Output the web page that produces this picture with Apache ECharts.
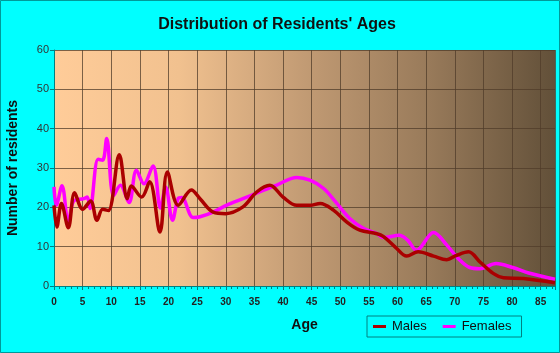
<!DOCTYPE html>
<html>
<head>
<meta charset="utf-8">
<script src="https://cdn.jsdelivr.net/npm/echarts@6/dist/echarts.min.js"></script>
<style>
  html, body { margin: 0; padding: 0; background: #00ffff; }
  #chart { width: 560px; height: 353px; }
</style>
</head>
<body>
<div id="chart"></div>
<script>
// values (age, residents)
var maleAges = [0, 0.5, 1.3, 2.5, 3.6, 5, 6.4, 7.5, 8.5, 9.5, 11.4, 12.8, 13.5, 15.3, 16.7, 18.5, 19.8, 21.7, 24, 25.5, 27.8, 30, 33, 35.4, 37.7, 40, 42.4, 44.7, 46.5, 48.8, 51.1, 53.4, 56.4, 57.5, 59.6, 61.6, 63.6, 66.3, 68.6, 70.3, 72.4, 74.4, 76.7, 78.5, 82, 87.5];
var maleValues = [20.5, 15, 21, 14.8, 23.7, 19.5, 21.6, 16.7, 19.5, 19.2, 33.4, 22.2, 25.4, 22.6, 26.5, 13.7, 29, 20.5, 24.4, 22.2, 18.8, 18.4, 20.1, 23.9, 25.6, 22.6, 20.5, 20.5, 21, 19.3, 16.3, 14.2, 13.3, 12.6, 9.9, 7.6, 8.7, 7.6, 6.7, 7.8, 8.7, 6.1, 3.2, 2.1, 1.9, 0.8];

var femaleAges = [0, 0.4, 1.4, 2.5, 3.4, 5.2, 5.8, 6.3, 7.7, 8.5, 9.2, 10.4, 11.6, 13.1, 14.4, 15.7, 17.3, 18.6, 19.5, 20.7, 21.7, 22.3, 24.3, 25.5, 27.8, 30.1, 33, 35.9, 38.8, 42.4, 44.7, 47.1, 49.4, 51.7, 54.1, 56.4, 57.5, 60.3, 61.8, 63.3, 66.3, 68.6, 70.6, 72.6, 74.4, 77.2, 80.1, 82.9, 87.5];
var femaleValues = [25.2, 20.5, 25.5, 16, 21.5, 22.2, 22.6, 19.7, 32.2, 32, 37.5, 23, 25.6, 21.2, 29.4, 26, 30.5, 19.8, 25.2, 16.7, 22.3, 22.5, 17.4, 17.6, 18.8, 20.5, 22.2, 23.9, 25.6, 27.6, 26.9, 24.8, 21, 17.1, 14.6, 13.3, 12.3, 12.9, 11.6, 9.1, 13.6, 10.4, 7, 4.7, 4.4, 5.7, 4.7, 3.3, 1.7];

var seriesNames = ['Males', 'Females'];
var seriesColors = ['#aa0000', '#ff00ff'];

function pairs(xs, ys) {
    var out = [];
    for (var i = 0; i < xs.length; i++) {
        out.push([xs[i], ys[i]]);
    }
    return out;
}

var chart = echarts.init(document.getElementById('chart'));

var option = {
    backgroundColor: '#00ffff',
    animation: false,
    // thin teal frame round the whole picture
    graphic: [{
        type: 'rect',
        shape: { x: 0.5, y: 0.5, width: 559, height: 352 },
        style: { fill: null, stroke: '#009999', lineWidth: 1 },
        silent: true
    }],
    title: {
        text: "Distribution of Residents' Ages",
        left: 272,
        textAlign: 'center',
        top: 12,
        textStyle: { fontFamily: 'Liberation Sans', fontSize: 16, fontWeight: 'bold', color: '#111' }
    },
    legend: {
        data: seriesNames,
        left: 367,
        top: 316,
        padding: [4, 10, 4, 6],
        itemGap: 16,
        itemWidth: 13,
        itemHeight: 3,
        icon: 'rect',
        borderColor: '#008080',
        borderWidth: 1,
        textStyle: { fontFamily: 'Liberation Sans', fontSize: 13, color: '#111', padding: [0, 0, 0, 1] }
    },
    grid: {
        left: 54,
        right: 5,
        top: 50,
        bottom: 67,
        outerBoundsMode: 'none',
        show: true,
        borderWidth: 0,
        backgroundColor: new echarts.graphic.LinearGradient(0, 0, 1, 0, [
            { offset: 0, color: '#ffcc99' },
            { offset: 0.25, color: '#f1c18f' },
            { offset: 0.5, color: '#c29b74' },
            { offset: 0.75, color: '#987a5a' },
            { offset: 1, color: '#625039' }
        ])
    },
    xAxis: {
        type: 'value',
        min: 0,
        max: 87.5,
        interval: 5,
        name: 'Age',
        nameLocation: 'middle',
        nameGap: 32,
        nameTextStyle: { fontFamily: 'Liberation Sans', fontSize: 14, fontWeight: 'bold', color: '#111' },
        axisLine: { onZero: false, lineStyle: { color: '#008080', width: 1 } },
        axisTick: { show: true, length: 4, lineStyle: { color: '#008080' } },
        minorTick: { show: true, splitNumber: 5, length: 3, lineStyle: { color: '#008080' } },
        axisLabel: {
            showMaxLabel: false,
            margin: 11,
            fontFamily: 'Liberation Sans',
            fontSize: 10,
            fontWeight: 'bold',
            color: '#222'
        },
        splitLine: { show: true, lineStyle: { color: 'rgba(80,60,42,0.75)', width: 1 } }
    },
    yAxis: {
        type: 'value',
        min: 0,
        max: 60,
        interval: 10,
        name: 'Number of residents',
        nameLocation: 'middle',
        nameGap: 34,
        nameTextStyle: { fontFamily: 'Liberation Sans', fontSize: 14, fontWeight: 'bold', color: '#111' },
        axisLine: { show: true, lineStyle: { color: '#008080', width: 1 } },
        axisTick: { show: true, length: 4, lineStyle: { color: '#008080' } },
        axisLabel: { fontFamily: 'Liberation Sans', fontSize: 11, color: '#333', margin: 5 },
        splitLine: { show: true, lineStyle: { color: 'rgba(80,60,42,0.75)', width: 1 } }
    },
    series: [
        {
            name: seriesNames[0],
            type: 'line',
            smooth: 0.35,
            showSymbol: false,
            color: seriesColors[0],
            lineStyle: { width: 3.5, color: seriesColors[0] },
            data: pairs(maleAges, maleValues),
            z: 3
        },
        {
            name: seriesNames[1],
            type: 'line',
            smooth: 0.35,
            showSymbol: false,
            color: seriesColors[1],
            lineStyle: { width: 3.5, color: seriesColors[1] },
            data: pairs(femaleAges, femaleValues),
            z: 2
        }
    ]
};

chart.setOption(option);
</script>
</body>
</html>
